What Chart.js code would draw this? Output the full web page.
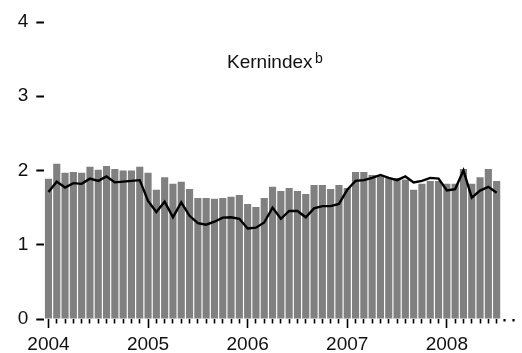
<!DOCTYPE html>
<html>
<head>
<meta charset="utf-8">
<script src="https://cdn.jsdelivr.net/npm/chart.js@4"></script>
<style>
  body { margin: 0; background: #fff; }
  canvas { display: block; }
</style>
</head>
<body>
<canvas id="kernChart" width="522" height="353"></canvas>
<script>
// Years on the axis, one category per month (Jan 2004 - Sep 2008, last two empty)
const years = ['2004', '2005', '2006', '2007', '2008'];
const monthCount = 57;

// Monthly bars (grey), Jan 2004 - Jul 2008
const barValues = [
    1.89, 2.09, 1.97, 1.98, 1.97, 2.05, 2.01, 2.06, 2.02, 2.00, 2.00, 2.05,
    1.97, 1.74, 1.91, 1.82, 1.85, 1.75, 1.63, 1.63, 1.62, 1.63, 1.645, 1.67,
    1.55, 1.51, 1.63, 1.78, 1.725, 1.765, 1.725, 1.685, 1.805, 1.805, 1.75, 1.805,
    1.765, 1.98, 1.98, 1.94, 1.94, 1.90, 1.90, 1.88, 1.74, 1.82, 1.86, 1.86,
    1.82, 1.82, 2.02, 1.82, 1.91, 2.02, 1.86
];

// Kernindex line (black)
const lineValues = [
    1.71, 1.85, 1.77, 1.83, 1.82, 1.89, 1.86, 1.92, 1.84, 1.85, 1.86, 1.87,
    1.59, 1.44, 1.58, 1.37, 1.57, 1.39, 1.29, 1.27, 1.31, 1.365, 1.37, 1.35,
    1.22, 1.23, 1.30, 1.50, 1.35, 1.455, 1.455, 1.37, 1.49, 1.52, 1.52, 1.55,
    1.74, 1.86, 1.87, 1.90, 1.94, 1.90, 1.87, 1.92, 1.84, 1.86, 1.90, 1.89,
    1.73, 1.75, 2.00, 1.635, 1.73, 1.78, 1.70
];

const yTicks = [0, 1, 2, 3, 4];

// month categories
const labels = [];
for (let i = 0; i < monthCount; i++) {
    labels.push(String(2004 + Math.floor(i / 12)) + '-' + String(i % 12 + 1).padStart(2, '0'));
}

const FONT = "'Liberation Sans', Arial, sans-serif";

// title text inside the plot
const titlePlugin = {
    id: 'kernTitle',
    afterDraw(chart) {
        const ctx = chart.ctx;
        ctx.save();
        ctx.fillStyle = '#111';
        ctx.textBaseline = 'alphabetic';
        ctx.textAlign = 'left';
        ctx.font = '19px ' + FONT;
        ctx.fillText('Kernindex', 227, 68);
        ctx.font = '14px ' + FONT;
        ctx.fillText('b', 315, 63);
        ctx.restore();
    }
};

new Chart(document.getElementById('kernChart'), {
    type: 'bar',
    data: {
        labels: labels,
        datasets: [
            {
                type: 'line',
                data: lineValues,
                borderColor: '#000',
                borderWidth: 2.4,
                pointRadius: 0,
                tension: 0,
                fill: false,
                order: 0
            },
            {
                type: 'bar',
                data: barValues,
                backgroundColor: '#808080',
                borderWidth: 0,
                barPercentage: 0.86,
                categoryPercentage: 1,
                order: 1
            }
        ]
    },
    options: {
        responsive: false,
        animation: false,
        layout: { padding: { top: 22, right: 4.6, left: 0, bottom: 0 } },
        plugins: {
            legend: { display: false },
            tooltip: { enabled: false }
        },
        scales: {
            x: {
                offset: true,
                border: { display: false },
                grid: {
                    offset: false,
                    drawOnChartArea: false,
                    drawTicks: true,
                    tickLength: 9,
                    tickColor: '#000',
                    tickWidth: (c) => (c.index >= 55 ? 2.2 : 1.6),
                    tickBorderDash: (c) => (c.index % 12 === 0 && c.index < 55 ? [] : (c.index >= 55 ? [2.5, 20] : [4.5, 20]))
                },
                ticks: {
                    autoSkip: false,
                    maxRotation: 0,
                    padding: 5,
                    color: '#111',
                    font: { family: FONT, size: 19 },
                    callback: (v, i) => (i % 12 === 0 && i < 55 ? years[i / 12] : '')
                },
                afterFit: (scale) => { scale.height = 34; }
            },
            y: {
                min: 0,
                max: 4,
                border: { display: false },
                grid: {
                    drawOnChartArea: false,
                    drawTicks: true,
                    tickLength: 8,
                    tickWidth: 2,
                    tickColor: '#000'
                },
                afterBuildTicks: (scale) => { scale.ticks = yTicks.map(v => ({ value: v })); },
                ticks: {
                    padding: 8,
                    color: '#111',
                    font: { family: FONT, size: 19 }
                },
                afterFit: (scale) => { scale.width = 44.3; }
            }
        }
    },
    plugins: [titlePlugin]
});
</script>
</body>
</html>
